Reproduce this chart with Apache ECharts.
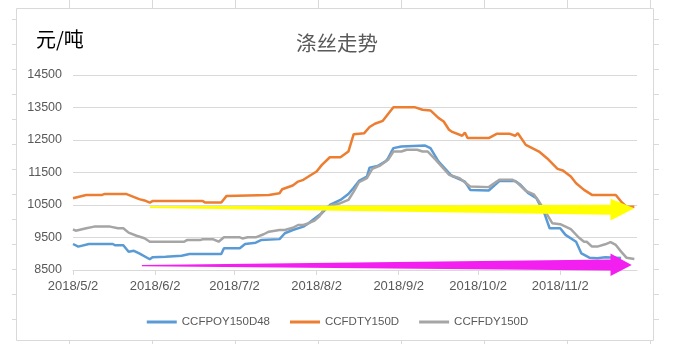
<!DOCTYPE html>
<html>
<head>
<meta charset="utf-8">
<script src="https://cdn.jsdelivr.net/npm/echarts@6/dist/echarts.min.js"></script>
<style>html,body{margin:0;padding:0;background:#fff;}#c{width:675px;height:358px;}</style>
</head>
<body>
<div id="c"></div>
<script>
// ---- data ----
const seriesNames = ['CCFPOY150D48', 'CCFDTY150D', 'CCFFDY150D'];
const tickDates = ['2018-05-02','2018-06-02','2018-07-02','2018-08-02','2018-09-02','2018-10-02','2018-11-02'];
const tickLabels = ['2018/5/2','2018/6/2','2018/7/2','2018/8/2','2018/9/2','2018/10/2','2018/11/2'];
const yTicks = [8500, 9500, 10500, 11500, 12500, 13500, 14500];

const poyData = [
['2018-05-02',9300],['2018-05-04',9220],['2018-05-08',9300],['2018-05-17',9300],['2018-05-18',9260],['2018-05-21',9260],
['2018-05-23',9060],['2018-05-25',9090],['2018-05-27',9010],['2018-05-31',8830],['2018-06-01',8890],['2018-06-06',8910],
['2018-06-12',8940],['2018-06-15',8990],['2018-06-27',8990],['2018-06-28',9170],['2018-07-04',9170],['2018-07-06',9300],
['2018-07-10',9340],['2018-07-12',9420],['2018-07-19',9450],['2018-07-21',9630],['2018-07-24',9730],['2018-07-28',9835],
['2018-07-30',9940],['2018-08-01',10070],['2018-08-04',10250],['2018-08-07',10500],['2018-08-11',10655],['2018-08-14',10840],
['2018-08-16',11030],['2018-08-18',11240],['2018-08-21',11375],['2018-08-22',11650],['2018-08-25',11700],['2018-08-28',11840],
['2018-08-29',11940],['2018-08-31',12250],['2018-09-03',12300],['2018-09-12',12330],['2018-09-14',12250],['2018-09-17',11840],
['2018-09-22',11400],['2018-09-27',11220],['2018-09-29',10965],['2018-10-06',10945],['2018-10-10',11240],['2018-10-16',11240],
['2018-10-18',11120],['2018-10-21',10860],['2018-10-24',10710],['2018-10-27',10250],['2018-10-29',9785],['2018-11-02',9785],
['2018-11-04',9580],['2018-11-08',9370],['2018-11-10',9010],['2018-11-13',8880],['2018-11-16',8860],['2018-11-19',8890],
['2018-11-25',8870]
];
const dtyData = [
['2018-05-02',10710],['2018-05-07',10810],['2018-05-13',10810],['2018-05-14',10840],['2018-05-22',10840],['2018-05-27',10680],
['2018-05-29',10640],['2018-05-31',10575],['2018-06-01',10620],['2018-06-20',10620],['2018-06-21',10575],['2018-06-27',10575],
['2018-06-29',10780],['2018-07-15',10810],['2018-07-19',10860],['2018-07-20',10985],['2018-07-24',11100],['2018-07-26',11220],
['2018-07-28',11275],['2018-07-31',11430],['2018-08-02',11530],['2018-08-04',11735],['2018-08-07',11970],['2018-08-11',11970],
['2018-08-14',12145],['2018-08-16',12680],['2018-08-20',12710],['2018-08-22',12900],['2018-08-24',13000],['2018-08-27',13090],
['2018-08-31',13510],['2018-09-08',13510],['2018-09-11',13430],['2018-09-14',13410],['2018-09-17',13180],['2018-09-19',13070],
['2018-09-21',12815],['2018-09-22',12760],['2018-09-26',12630],['2018-09-27',12730],['2018-09-28',12560],['2018-10-06',12560],
['2018-10-09',12690],['2018-10-14',12690],['2018-10-16',12630],['2018-10-17',12710],['2018-10-20',12350],['2018-10-25',12145],
['2018-10-28',11940],['2018-11-01',11610],['2018-11-03',11560],['2018-11-06',11375],['2018-11-08',11170],['2018-11-11',10965],
['2018-11-14',10810],['2018-11-23',10810],['2018-11-25',10605],['2018-11-27',10450],['2018-11-30',10450]
];
const fdyData = [
['2018-05-02',9750],['2018-05-03',9710],['2018-05-07',9785],['2018-05-10',9835],['2018-05-16',9835],['2018-05-19',9785],
['2018-05-21',9785],['2018-05-23',9650],['2018-05-26',9555],['2018-05-29',9475],['2018-05-31',9370],['2018-06-13',9370],
['2018-06-14',9420],['2018-06-19',9420],['2018-06-20',9445],['2018-06-24',9445],['2018-06-26',9370],['2018-06-28',9505],
['2018-07-04',9505],['2018-07-05',9470],['2018-07-07',9505],['2018-07-10',9505],['2018-07-13',9600],['2018-07-15',9680],
['2018-07-19',9730],['2018-07-21',9730],['2018-07-24',9800],['2018-07-26',9885],['2018-07-28',9885],['2018-07-30',9940],
['2018-08-01',10010],['2018-08-03',10145],['2018-08-05',10400],['2018-08-08',10500],['2018-08-11',10555],['2018-08-14',10655],
['2018-08-16',10910],['2018-08-18',11200],['2018-08-21',11325],['2018-08-23',11610],['2018-08-26',11715],['2018-08-29',11890],
['2018-08-31',12145],['2018-09-03',12145],['2018-09-05',12200],['2018-09-09',12200],['2018-09-11',12145],['2018-09-13',12145],
['2018-09-16',11890],['2018-09-21',11430],['2018-09-25',11325],['2018-09-29',11070],['2018-10-06',11050],['2018-10-10',11275],
['2018-10-15',11275],['2018-10-17',11170],['2018-10-20',10935],['2018-10-23',10830],['2018-10-25',10605],['2018-10-28',10215],
['2018-10-30',9940],['2018-11-02',9910],['2018-11-06',9755],['2018-11-09',9500],['2018-11-11',9370],['2018-11-12',9370],
['2018-11-14',9220],['2018-11-16',9220],['2018-11-19',9290],['2018-11-21',9355],['2018-11-23',9270],['2018-11-25',9065],
['2018-11-27',8880],['2018-11-30',8840]
];
// annotation arrows (outline vertices in data units)
const yellowArrow = [['2018-05-31',10463],['2018-11-21',10510],['2018-11-21',10690],['2018-11-30',10400],['2018-11-21',10020],['2018-11-21',10200],['2018-05-31',10410]];
const magentaArrow = [['2018-05-28',8655],['2018-11-21',8825],['2018-11-21',9010],['2018-11-29',8655],['2018-11-21',8315],['2018-11-21',8485],['2018-05-28',8615]];
const xStart = '2018-05-02', xEnd = '2018-12-01';

// ---- helpers ----
function ts(s){ const p = s.split('-').map(Number); return Date.UTC(p[0], p[1]-1, p[2]); }
const toXY = arr => arr.map(d => [ts(d[0]), d[1]]);
const tickTs = tickDates.map(ts);

// spreadsheet cell lines around the chart frame
const colX = [69.5, 152.5, 235.5, 318.5, 401.5, 484.5, 567.5, 650.5];
const rowY = [];
for (let k = 0; k <= 12; k++) rowY.push(19.5 + 25 * k);
const sheetLines = [];
const lineStyle = { stroke: '#d9d9d9', lineWidth: 1 };
colX.forEach(x => {
  sheetLines.push({ type: 'line', silent: true, shape: { x1: x, y1: 0, x2: x, y2: 8 }, style: lineStyle });
  sheetLines.push({ type: 'line', silent: true, shape: { x1: x, y1: 341, x2: x, y2: 344 }, style: lineStyle });
});
rowY.forEach(y => {
  sheetLines.push({ type: 'line', silent: true, shape: { x1: 12, y1: y, x2: 16, y2: y }, style: lineStyle });
  sheetLines.push({ type: 'line', silent: true, shape: { x1: 654, y1: y, x2: 659, y2: y }, style: lineStyle });
});
sheetLines.push({ type: 'rect', silent: true, shape: { x: 16.5, y: 8.5, width: 637, height: 332 }, style: { fill: null, stroke: '#d9d9d9', lineWidth: 1 } });
sheetLines.push({ type: 'text', silent: true, left: 36, top: 29, style: { text: '元/吨', fill: '#000', font: '20px "Noto Sans CJK SC"' } });

function arrowSeries(shape, color) {
  return {
    type: 'custom', silent: true, z: 5, clip: false,
    data: [[ts(shape[0][0]), shape[0][1]]],
    renderItem: (params, api) => ({
      type: 'polygon',
      shape: { points: shape.map(p => api.coord([ts(p[0]), p[1]])) },
      style: { fill: color }
    })
  };
}

const chart = echarts.init(document.getElementById('c'), null, { renderer: 'canvas' });
const fontLatin = '"Liberation Sans", Arial, sans-serif';
chart.setOption({
  animation: false,
  backgroundColor: '#fff',
  title: {
    text: '涤丝走势', left: 291, top: 28,
    textStyle: { fontSize: 20.5, fontWeight: 'normal', color: '#595959', fontFamily: '"Noto Sans CJK SC"' }
  },
  graphic: sheetLines,
  legend: {
    data: seriesNames, top: 311, left: 'center', icon: 'rect', itemWidth: 30, itemHeight: 3, itemGap: 20,
    textStyle: { fontSize: 11.5, color: '#595959', fontFamily: fontLatin }
  },
  grid: { left: 73, right: 38, top: 75, bottom: 88, containLabel: false },
  xAxis: {
    type: 'value', min: ts(xStart), max: ts(xEnd),
    splitLine: { show: false },
    axisLine: { show: true, lineStyle: { color: '#d9d9d9', width: 1 } },
    axisTick: { show: true, customValues: tickTs, length: 5, lineStyle: { color: '#d9d9d9' } },
    axisLabel: {
      customValues: tickTs, margin: 10, color: '#595959', fontSize: 13, fontFamily: fontLatin,
      formatter: v => { const i = tickTs.indexOf(v); return i >= 0 ? tickLabels[i] : ''; }
    }
  },
  yAxis: {
    type: 'value', min: yTicks[0], max: yTicks[yTicks.length - 1], interval: 1000,
    axisLine: { show: false }, axisTick: { show: false },
    splitLine: { lineStyle: { color: '#d9d9d9', width: 1 } },
    axisLabel: { margin: 11, color: '#595959', fontSize: 12.5, fontFamily: fontLatin, formatter: v => String(v) }
  },
  series: [
    { name: seriesNames[0], type: 'line', data: toXY(poyData), showSymbol: false, symbol: 'none', color: '#5B9BD5', lineStyle: { width: 2.5, color: '#5B9BD5' }, z: 3 },
    { name: seriesNames[1], type: 'line', data: toXY(dtyData), showSymbol: false, symbol: 'none', color: '#ED7D31', lineStyle: { width: 2.5, color: '#ED7D31' }, z: 3 },
    { name: seriesNames[2], type: 'line', data: toXY(fdyData), showSymbol: false, symbol: 'none', color: '#A5A5A5', lineStyle: { width: 2.5, color: '#A5A5A5' }, z: 3 },
    arrowSeries(yellowArrow, '#FFFF00'),
    arrowSeries(magentaArrow, '#F31EF0')
  ]
});
</script>
</body>
</html>
